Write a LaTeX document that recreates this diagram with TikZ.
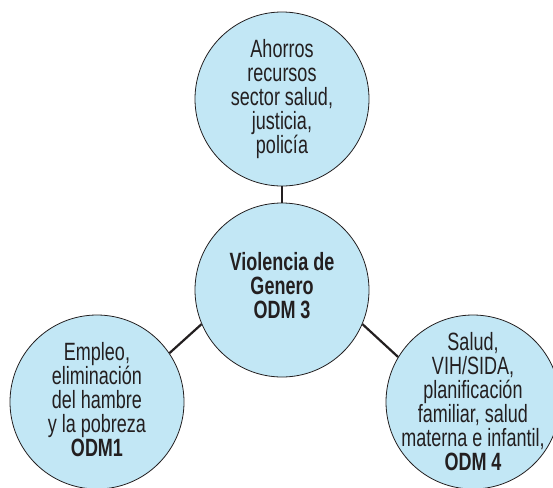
\documentclass[tikz,border=0pt]{standalone}
\usepackage{fontspec}
\setmainfont{Liberation Sans}[FakeStretch=0.72]
\definecolor{bubblefill}{HTML}{C2E7F5}
\definecolor{inktext}{HTML}{231F20}
\begin{document}
\begin{tikzpicture}[x=1pt, y=-1pt,
		bubble/.style={circle, draw=inktext, line width=0.8pt, fill=bubblefill, minimum size=174pt, inner sep=0pt},
		bubbletext/.style={align=center, text=inktext, font=\fontsize{25}{24}\selectfont, inner sep=0pt},
		link/.style={draw=inktext, line width=2.2pt}]
	\useasboundingbox (0, 0) rectangle (553, 487);

	\node [bubble, label={[bubbletext]center:{Ahorros\\recursos\\sector salud,\\justicia,\\polic\'ia}}] (ahorros) at (282, 99) {};
	\node [bubble, label={[bubbletext, yshift=4pt, font=\fontsize{25}{24}\selectfont\bfseries]center:{Violencia de\\Genero\\ODM 3}}] (violencia) at (282, 290) {};
	\node [bubble, label={[bubbletext, yshift=2pt]center:{Empleo,\\eliminaci\'on\\del hambre\\y la pobreza\\\textbf{ODM1}}}] (empleo) at (97, 402) {};
	\node [bubble, label={[bubbletext]center:{Salud,\\VIH/SIDA,\\planificaci\'on\\familiar, salud\\materna e infantil,\\\textbf{ODM 4}}}] (salud) at (473, 402) {};

	\draw [link] (violencia.90) -- (ahorros.270);
	\draw [link] (violencia.203) -- (empleo.34);
	\draw [link] (violencia.337) -- (salud.149);
\end{tikzpicture}
\end{document}
